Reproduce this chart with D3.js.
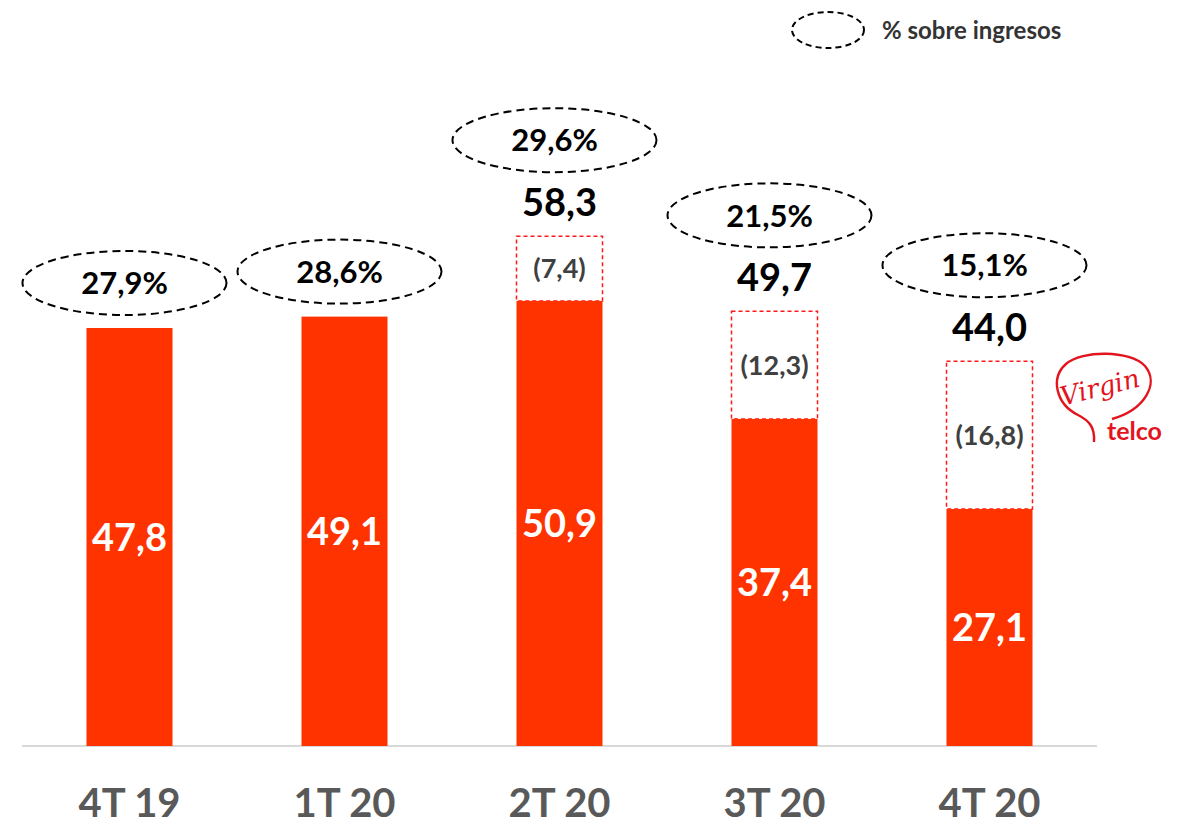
<!DOCTYPE html>
<html>
<head>
<meta charset="utf-8">
<script src="https://cdn.jsdelivr.net/npm/d3@7"></script>
<style>
  body { margin: 0; background: #fff; }
  svg { display: block; font-family: Lato, "Open Sans", sans-serif; }
</style>
</head>
<body>
<svg width="1181" height="826"></svg>
<script>
// data
const quarters = ["4T 19", "1T 20", "2T 20", "3T 20", "4T 20"];
const ebitda = [47.8, 49.1, 50.9, 37.4, 27.1];
const virginImpact = [null, null, 7.4, 12.3, 16.8];
const totals = [null, null, 58.3, 49.7, 44.0];
const marginPct = [27.9, 28.6, 29.6, 21.5, 15.1];

const es = d3.formatLocale({ decimal: ",", thousands: ".", grouping: [3], currency: ["", "€"] });
const f1 = es.format(".1f");

const svg = d3.select("svg"),
    baseY = 746,
    left = 22, right = 1097;

const x = d3.scaleBand()
    .domain(quarters)
    .range([left, right])
    .paddingInner(0.6)
    .paddingOuter(0.3);

const y = d3.scaleLinear()
    .domain([0, 60])
    .range([baseY, baseY - 60 * 8.745]);

const rows = quarters.map((q, i) => ({
    q: q, v: ebitda[i], imp: virginImpact[i], total: totals[i], pct: marginPct[i]
}));

// axis line
svg.append("line")
    .attr("x1", left).attr("x2", right)
    .attr("y1", baseY).attr("y2", baseY)
    .attr("stroke", "#d9d9d9").attr("stroke-width", 2);

// dashed boxes for virgin telco impact
svg.selectAll(".imp").data(rows.filter(d => d.total != null))
    .enter().append("rect")
    .attr("class", "imp")
    .attr("x", d => x(d.q))
    .attr("y", d => y(d.total))
    .attr("width", x.bandwidth())
    .attr("height", d => y(d.v) - y(d.total))
    .attr("fill", "none")
    .attr("stroke", "#ff1a1a")
    .attr("stroke-width", 1.5)
    .attr("stroke-dasharray", "4,3");

svg.selectAll(".imp-label").data(rows.filter(d => d.total != null))
    .enter().append("text")
    .attr("x", d => x(d.q) + x.bandwidth() / 2)
    .attr("y", d => (y(d.v) + y(d.total)) / 2)
    .attr("dy", "0.36em")
    .attr("text-anchor", "middle")
    .attr("font-size", 27).attr("font-weight", 700)
    .attr("fill", "#404040")
    .text(d => "(" + f1(d.imp) + ")");

// bars
svg.selectAll(".bar").data(rows)
    .enter().append("rect")
    .attr("class", "bar")
    .attr("x", d => x(d.q))
    .attr("y", d => y(d.v))
    .attr("width", x.bandwidth())
    .attr("height", d => baseY - y(d.v))
    .attr("fill", "#ff3300");

svg.selectAll(".bar-label").data(rows)
    .enter().append("text")
    .attr("x", d => x(d.q) + x.bandwidth() / 2)
    .attr("y", d => (y(d.v) + baseY) / 2)
    .attr("dy", "0.36em")
    .attr("text-anchor", "middle")
    .attr("font-size", 38).attr("font-weight", 700)
    .attr("fill", "#fff")
    .text(d => f1(d.v));

// totals above the dashed boxes
svg.selectAll(".total").data(rows.filter(d => d.total != null))
    .enter().append("text")
    .attr("x", d => x(d.q) + x.bandwidth() / 2)
    .attr("y", d => y(d.total) - 34)
    .attr("dy", "0.36em")
    .attr("text-anchor", "middle")
    .attr("font-size", 38).attr("font-weight", 700)
    .attr("fill", "#000")
    .text(d => f1(d.total));

// % on revenue bubbles
function pctY(d) {
    return d.total != null ? y(d.total) - 96 : y(d.v) - 45;
}
const pctG = svg.selectAll(".pct").data(rows)
    .enter().append("g")
    .attr("transform", d => `translate(${x(d.q) + x.bandwidth() / 2 - 5},${pctY(d)})`);

pctG.append("ellipse")
    .attr("rx", 102).attr("ry", 32)
    .attr("fill", "none")
    .attr("stroke", "#000")
    .attr("stroke-width", 2)
    .attr("stroke-dasharray", "8,5");

pctG.append("text")
    .attr("dy", "0.36em")
    .attr("text-anchor", "middle")
    .attr("font-size", 31).attr("font-weight", 700)
    .attr("fill", "#000")
    .text(d => f1(d.pct) + "%");

// x labels
svg.selectAll(".xlab").data(quarters)
    .enter().append("text")
    .attr("x", d => x(d) + x.bandwidth() / 2)
    .attr("y", 817)
    .attr("text-anchor", "middle")
    .attr("font-size", 40).attr("font-weight", 700)
    .attr("fill", "#595959")
    .text(d => d);

// legend
const lg = svg.append("g").attr("transform", "translate(828,30)");
lg.append("ellipse")
    .attr("rx", 36).attr("ry", 18)
    .attr("fill", "none").attr("stroke", "#000")
    .attr("stroke-width", 2).attr("stroke-dasharray", "6,4");
lg.append("text")
    .attr("x", 54).attr("dy", "0.36em")
    .attr("font-size", 24).attr("font-weight", 700)
    .attr("fill", "#333")
    .text("% sobre ingresos");

// virgin telco logo
const logo = svg.append("g").attr("fill", "none").attr("stroke", "#e3141e");
logo.append("path")
    .attr("d", "M1094,442 C1095,428 1090,421 1078,415 C1056,404 1050,378 1066,364 C1082,350 1130,350 1145,366 C1160,384 1144,410 1112,419")
    .attr("stroke-width", 2.4);
svg.append("text")
    .attr("transform", "translate(1102,396) rotate(-14)")
    .attr("text-anchor", "middle")
    .attr("font-family", "DejaVu Serif, serif")
    .attr("font-style", "italic")
    .attr("font-size", 26)
    .attr("fill", "#e3141e")
    .text("Virgin");
svg.append("text")
    .attr("x", 1107).attr("y", 440)
    .attr("font-size", 25).attr("font-weight", 700)
    .attr("fill", "#e3141e")
    .text("telco");
</script>
</body>
</html>
